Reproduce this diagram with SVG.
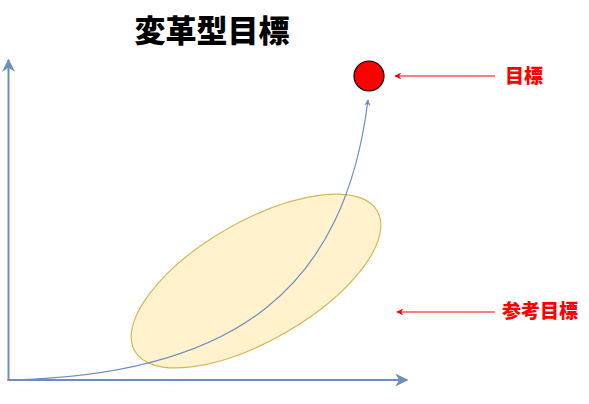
<svg xmlns="http://www.w3.org/2000/svg" width="589" height="404" viewBox="0 0 589 404">
<style>
.axis{stroke:#6C8EBF;stroke-width:2;fill:none}
.curve{stroke:#6C8EBF;stroke-width:1.2;fill:none}
.red{stroke:#FF0000;stroke-width:1.2;fill:none}
.lbl{font-family:"Noto Sans CJK JP","Noto Sans CJK SC",sans-serif;font-weight:900;fill:#FF0000;font-size:19px}
.title{font-family:"Noto Sans CJK JP","Noto Sans CJK SC",sans-serif;font-weight:900;fill:#000;font-size:31px}
</style>
<defs>
<marker id="ab" viewBox="0 0 10 10" refX="9" refY="5" markerWidth="6.5" markerHeight="6.5" orient="auto" markerUnits="userSpaceOnUse">
<path d="M0,0 L10,5 L0,10 L3,5 Z" fill="#6C8EBF"/>
</marker>
<marker id="abBig" viewBox="0 0 10 10" refX="9" refY="5" markerWidth="13" markerHeight="13" orient="auto" markerUnits="userSpaceOnUse">
<path d="M0,0 L10,5 L0,10 L3,5 Z" fill="#6C8EBF"/>
</marker>
<marker id="ar" viewBox="0 0 10 10" refX="9" refY="5" markerWidth="7" markerHeight="7" orient="auto" markerUnits="userSpaceOnUse">
<path d="M0,0 L10,5 L0,10 L3,5 Z" fill="#FF0000"/>
</marker>
</defs>
<g id="title"><text class="title" x="212" y="42" text-anchor="middle">変革型目標</text></g>
<g id="reference-zone"><ellipse cx="256" cy="281" rx="140" ry="59.5" transform="rotate(-30 256 281)" fill="#FFF2CC" stroke="#D6B656" stroke-width="1.2"/></g>
<g id="goal"><circle cx="369" cy="76" r="15" fill="#FF0000" stroke="#000" stroke-width="1.2"/></g>
<g id="label-goal"><text class="lbl" x="505" y="83">目標</text></g>
<g id="label-ref"><text class="lbl" x="502" y="318">参考目標</text></g>
<g id="connectors">
<line class="axis" x1="8.5" y1="381" x2="8.5" y2="60" marker-end="url(#abBig)"/>
<line class="axis" x1="7.5" y1="380" x2="407" y2="380" marker-end="url(#abBig)"/>
<path class="curve" d="M10,380 C240,375 345,285 368,100" marker-end="url(#ab)"/>
<line class="red" x1="495" y1="76" x2="395" y2="76" marker-end="url(#ar)"/>
<line class="red" x1="495" y1="312" x2="397" y2="312" marker-end="url(#ar)"/>
</g>
</svg>
